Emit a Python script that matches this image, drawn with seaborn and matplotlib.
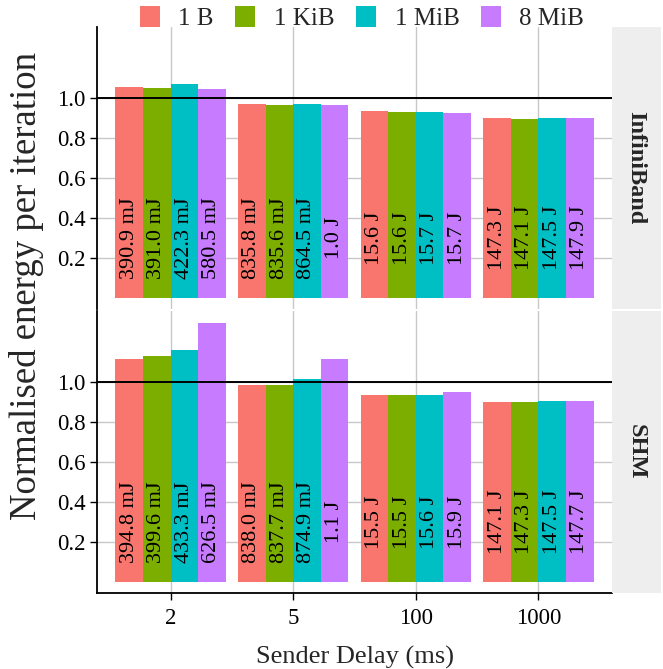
import matplotlib
matplotlib.use("Agg")
import matplotlib.pyplot as plt
import pandas as pd
import seaborn as sns
from matplotlib.patches import Patch, Rectangle

# ---------------- data ----------------
delays = ["2", "5", "100", "1000"]
sizes = ["1 B", "1 KiB", "1 MiB", "8 MiB"]
panels = ["InfiniBand", "SHM"]
colors = ["#F8766D", "#7CAE00", "#00BFC4", "#C77CFF"]

# normalised energy per iteration (per size, over delays 2, 5, 100, 1000)
ib_1b = [1.055, 0.970, 0.935, 0.900]
ib_1kib = [1.050, 0.965, 0.930, 0.895]
ib_1mib = [1.070, 0.972, 0.930, 0.900]
ib_8mib = [1.045, 0.965, 0.925, 0.900]

shm_1b = [1.115, 0.983, 0.935, 0.900]
shm_1kib = [1.130, 0.985, 0.935, 0.900]
shm_1mib = [1.160, 1.015, 0.935, 0.905]
shm_8mib = [1.295, 1.115, 0.950, 0.905]

# absolute energy labels
ib_1b_lab = ["390.9 mJ", "835.8 mJ", "15.6 J", "147.3 J"]
ib_1kib_lab = ["391.0 mJ", "835.6 mJ", "15.6 J", "147.1 J"]
ib_1mib_lab = ["422.3 mJ", "864.5 mJ", "15.7 J", "147.5 J"]
ib_8mib_lab = ["580.5 mJ", "1.0 J", "15.7 J", "147.9 J"]

shm_1b_lab = ["394.8 mJ", "838.0 mJ", "15.5 J", "147.1 J"]
shm_1kib_lab = ["399.6 mJ", "837.7 mJ", "15.5 J", "147.3 J"]
shm_1mib_lab = ["433.3 mJ", "874.9 mJ", "15.6 J", "147.5 J"]
shm_8mib_lab = ["626.5 mJ", "1.1 J", "15.9 J", "147.7 J"]

values = {
    "InfiniBand": [ib_1b, ib_1kib, ib_1mib, ib_8mib],
    "SHM": [shm_1b, shm_1kib, shm_1mib, shm_8mib],
}
labels = {
    "InfiniBand": [ib_1b_lab, ib_1kib_lab, ib_1mib_lab, ib_8mib_lab],
    "SHM": [shm_1b_lab, shm_1kib_lab, shm_1mib_lab, shm_8mib_lab],
}

rows = []
for p in panels:
    for s, vals, labs in zip(sizes, values[p], labels[p]):
        for d, v, l in zip(delays, vals, labs):
            rows.append({"panel": p, "size": s, "delay": d, "norm": v, "label": l})
df = pd.DataFrame(rows)

# ---------------- style ----------------
sns.set_style("white")
plt.rcParams["font.family"] = ["Liberation Serif", "DejaVu Serif"]

W, H = 663, 669
fig = plt.figure(figsize=(W / 100, H / 100), dpi=100)

left, right = 97, 612
boxes = {"InfiniBand": (27, 309), "SHM": (311, 593)}

axes = {}
for p in panels:
    top, bot = boxes[p]
    ax = fig.add_axes([left / W, 1 - bot / H, (right - left) / W, (bot - top) / H])
    axes[p] = ax
    sub = df[df["panel"] == p]
    sns.barplot(data=sub, x="delay", y="norm", hue="size", order=delays,
                hue_order=sizes, palette=colors, width=0.9, saturation=1,
                linewidth=0, errorbar=None, legend=False, ax=ax, zorder=2)
    ax.set_axisbelow(True)
    ax.xaxis.grid(True, color="#C8C8C8", linewidth=1.0, zorder=0)
    ax.yaxis.grid(True, color="#C8C8C8", linewidth=1.0, zorder=0)
    ax.axhline(1.0, color="black", linewidth=1.4, zorder=3)
    for cont, labs in zip(ax.containers, labels[p]):
        for bar, t in zip(cont, labs):
            ax.text(bar.get_x() + bar.get_width() / 2, 0.3, t, rotation=90,
                    ha="center", va="center", fontsize=16, color="black", zorder=4)
    ax.set_xlim(-0.6, 3.6)
    ax.set_ylim(-0.055, 1.355)
    ax.set_yticks([0.2, 0.4, 0.6, 0.8, 1.0])
    ax.set_yticklabels(["0.2", "0.4", "0.6", "0.8", "1.0"])
    ax.set_ylabel("")
    for sp in ["top", "right"]:
        ax.spines[sp].set_visible(False)
    ax.spines["left"].set_color("black")
    ax.spines["left"].set_linewidth(1.3)
    ax.spines["bottom"].set_color("black")
    ax.spines["bottom"].set_linewidth(1.3)
    ax.tick_params(axis="y", length=5, width=1, color="black",
                   labelsize=16.5, labelcolor="black", pad=3, left=True)
    ax.tick_params(axis="x", length=5, width=1, color="black",
                   labelsize=16.5, labelcolor="black", pad=6, bottom=True)

    # strip on the right
    fig.patches.append(Rectangle((right / W, 1 - bot / H), (661 - right) / W,
                                 (bot - top) / H, transform=fig.transFigure,
                                 facecolor="#EEEEEE", edgecolor="none", zorder=0))
    fig.text(636 / W, 1 - (top + bot) / 2 / H, p, rotation=-90, ha="center",
             va="center", fontsize=17.5, fontweight="bold")

ax_top = axes["InfiniBand"]
ax_bot = axes["SHM"]
ax_top.spines["bottom"].set_visible(False)
ax_top.tick_params(axis="x", bottom=False, labelbottom=False)
ax_top.set_xlabel("")
ax_bot.set_xlabel("Sender Delay (ms)", fontsize=19, labelpad=12)

fig.text(27 / W, 1 - 286 / H, "Normalised energy per iteration", rotation=90,
         ha="center", va="center", fontsize=26.5)

handles = [Patch(facecolor=c, edgecolor="none") for c in colors]
fig.legend(handles, sizes, loc="center", bbox_to_anchor=(362 / W, 1 - 18 / H),
           ncol=4, frameon=False, fontsize=18, handlelength=0.8, handleheight=0.95,
           handletextpad=0.75, columnspacing=0.85, borderaxespad=0)

fig.savefig("out.png", dpi=100)
